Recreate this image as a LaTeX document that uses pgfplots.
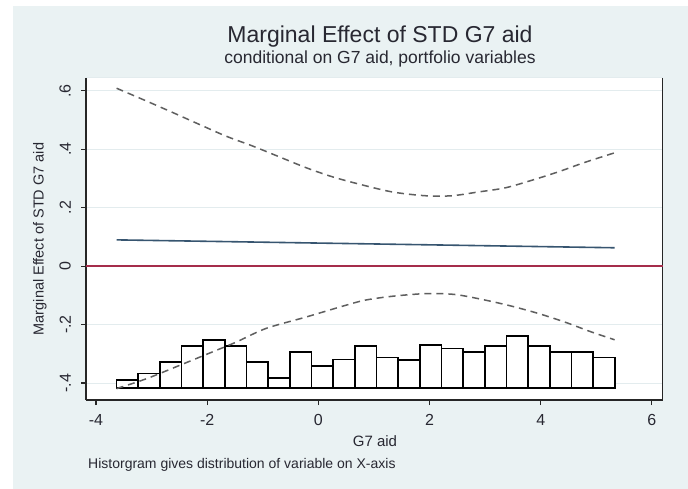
\documentclass[border=0pt]{standalone}
\usepackage{fontspec}
\setmainfont{Liberation Sans}
\usepackage{pgfplots}
\pgfplotsset{compat=1.18}
\definecolor{bgblue}{HTML}{EAF2F3}
\definecolor{gridc}{HTML}{E3ECEE}
\definecolor{navyl}{RGB}{55,85,112}
\definecolor{maroonl}{RGB}{165,45,75}
\definecolor{dashg}{RGB}{95,95,95}
\definecolor{txt}{RGB}{40,40,50}
\newcommand{\fs}[1]{\fontsize{#1bp}{#1bp}\selectfont}
\newcommand{\histbar}[3]{\addplot[fill=white, draw=black, line width=1.7bp, line join=miter] coordinates {(#1,-0.416) (#1,#3) (#2,#3) (#2,-0.416)} -- cycle;}
\begin{document}
\begin{tikzpicture}
\useasboundingbox (0,0) rectangle (688bp,489bp);
\fill[white] (0,0) rectangle (688bp,489bp);
\fill[bgblue] (13bp,0) rectangle (688bp,483bp);
\begin{axis}[
  at={(86bp,89bp)}, anchor=south west,
  scale only axis, width=577bp, height=322bp,
  xmin=-4.18, xmax=6.2, ymin=-0.458, ymax=0.644,
  axis background/.style={fill=white},
  axis x line*=bottom, axis y line*=left,
  axis line style={line width=1.5bp, color=black!85, -},
  xtick={-4,-2,0,2,4,6}, xticklabels={-4,-2,0,2,4,6},
  ytick={-0.4,-0.2,0,0.2,0.4,0.6}, yticklabels={-.4,-.2,0,.2,.4,.6},
  tick align=outside, major tick length=5bp,
  tick style={line width=1.2bp, black!85},
  ymajorgrids, grid style={gridc, line width=1bp},
  xticklabel style={font=\fs{16}, inner ysep=9bp, text=txt},
  yticklabel style={font=\fs{16}, rotate=90, anchor=south, inner ysep=10bp, text=txt},
]
\draw[gridc, line width=1bp] (rel axis cs:0,1) -- (rel axis cs:1,1);
\draw[line width=1.5bp, black!85] (rel axis cs:1,0) -- (rel axis cs:1,1);
% histogram
\histbar{-3.630}{-3.240}{-0.390}
\histbar{-3.240}{-2.851}{-0.367}
\histbar{-2.851}{-2.461}{-0.327}
\histbar{-2.461}{-2.072}{-0.272}
\histbar{-2.072}{-1.682}{-0.253}
\histbar{-1.682}{-1.292}{-0.272}
\histbar{-1.292}{-0.903}{-0.327}
\histbar{-0.903}{-0.513}{-0.382}
\histbar{-0.513}{-0.124}{-0.293}
\histbar{-0.124}{0.266}{-0.342}
\histbar{0.266}{0.656}{-0.319}
\histbar{0.656}{1.045}{-0.272}
\histbar{1.045}{1.435}{-0.313}
\histbar{1.435}{1.824}{-0.321}
\histbar{1.824}{2.214}{-0.270}
\histbar{2.214}{2.604}{-0.282}
\histbar{2.604}{2.993}{-0.293}
\histbar{2.993}{3.383}{-0.272}
\histbar{3.383}{3.772}{-0.238}
\histbar{3.772}{4.162}{-0.272}
\histbar{4.162}{4.552}{-0.293}
\histbar{4.552}{4.941}{-0.293}
\histbar{4.941}{5.331}{-0.313}
% zero line
\addplot[maroonl, line width=1.4bp] coordinates {(-4.18,0) (6.2,0)};
% marginal effect
\addplot[navyl, line width=1.6bp] coordinates {(-3.63,0.090) (5.33,0.063)};
% upper CI
\addplot[dashg, line width=1.5bp, dash pattern=on 7bp off 5bp, smooth] coordinates {
(-3.63,0.609) (-3.09,0.565) (-2.61,0.525) (-2.14,0.485) (-1.66,0.445) (-1.18,0.411)
(-0.70,0.374) (-0.22,0.337) (0.25,0.306) (0.73,0.281) (1.33,0.254) (1.93,0.241)
(2.40,0.241) (2.88,0.254) (3.36,0.268) (3.84,0.294) (4.32,0.323) (4.79,0.355) (5.33,0.388)};
% lower CI
\addplot[dashg, line width=1.5bp, dash pattern=on 7bp off 5bp, smooth] coordinates {
(-3.63,-0.419) (-3.09,-0.385) (-2.49,-0.339) (-1.90,-0.293) (-1.48,-0.260) (-0.94,-0.213)
(-0.22,-0.174) (0.49,-0.134) (0.85,-0.116) (1.33,-0.103) (1.93,-0.094) (2.46,-0.097)
(3.00,-0.116) (3.48,-0.137) (3.96,-0.162) (4.43,-0.191) (4.91,-0.225) (5.33,-0.252)};
\end{axis}
\node[anchor=base, font=\fs{23}, text=txt] at (380bp,446.3bp) {Marginal Effect of STD G7 aid};
\node[anchor=base, font=\fs{17.5}, text=txt] at (380bp,425.7bp) {conditional on G7 aid, portfolio variables};
\node[anchor=base, font=\fs{15}, text=txt] at (375bp,42bp) {G7 aid};
\node[anchor=base west, font=\fs{14}, inner sep=0pt, text=txt] at (88bp,21bp) {Historgram gives distribution of variable on X-axis};
\node[rotate=90, font=\fs{14.5}, text=txt] at (40bp,250bp) {Marginal Effect of STD G7 aid};
\end{tikzpicture}
\end{document}
